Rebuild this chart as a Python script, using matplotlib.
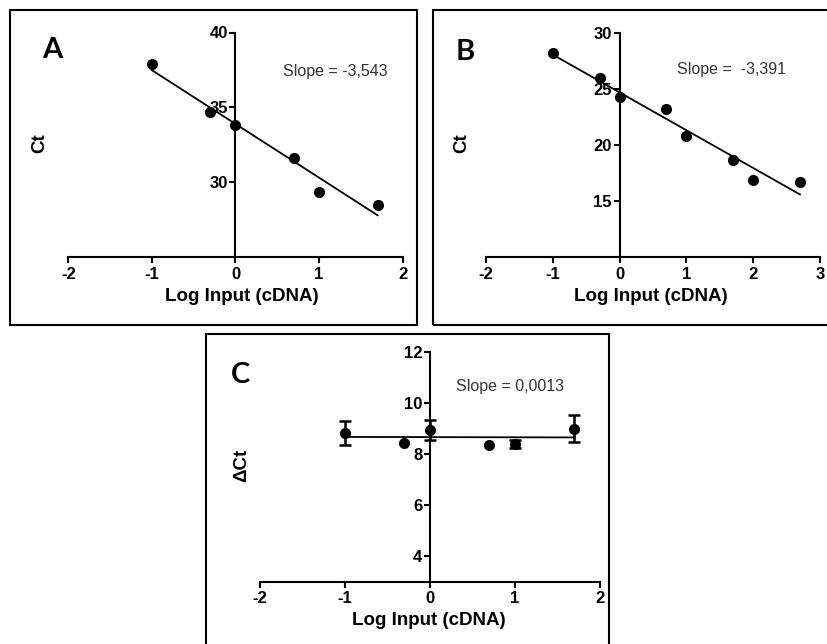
import numpy as np
import matplotlib
matplotlib.use('Agg')
import matplotlib.pyplot as plt
from matplotlib.patches import Rectangle

plt.rcParams['axes.unicode_minus'] = False
plt.rcParams['font.family'] = ['Liberation Sans', 'DejaVu Sans']

# panel A
xA = [-1, -0.3, 0, 0.7, 1, 1.7]
yA = [37.9, 34.7, 33.8, 31.6, 29.35, 28.45]
# panel B
xB = [-1, -0.3, 0, 0.7, 1, 1.7, 2, 2.7]
yB = [28.26, 26.02, 24.27, 23.19, 20.8, 18.65, 16.86, 16.68]
# panel C (delta Ct, with error)
xC = [-1, -0.3, 0, 0.7, 1, 1.7]
yC = [8.84, 8.46, 8.96, 8.36, 8.40, 9.0]
eC = [0.48, 0.0, 0.40, 0.0, 0.17, 0.53]

W, H = 828, 644
fig = plt.figure(figsize=(W/100, H/100), dpi=100)

def px_axes(x0, x1, ytop, ybot):
    return fig.add_axes([x0/W, 1-ybot/H, (x1-x0)/W, (ybot-ytop)/H])

def style(ax, xlim, ylim, xticks, yticks):
    ax.set_xlim(xlim)
    ax.set_ylim(ylim)
    ax.set_xticks(xticks)
    ax.set_yticks(yticks)
    for s in ['top', 'right']:
        ax.spines[s].set_visible(False)
    ax.spines['left'].set_position(('data', 0))
    ax.spines['left'].set_linewidth(1.5)
    ax.spines['bottom'].set_linewidth(1.5)
    ax.tick_params(direction='out', length=4, width=1.5, labelsize=12)
    ax.tick_params(axis='x', pad=3)
    ax.tick_params(axis='y', pad=1.5)
    for lab in ax.get_xticklabels() + ax.get_yticklabels():
        lab.set_fontweight('bold')
    ax.patch.set_alpha(0)

def fitline(ax, x, y):
    k, b = np.polyfit(x, y, 1)
    xs = np.array([min(x), max(x)])
    ax.plot(xs, k*xs + b, color='black', lw=1.3, zorder=3)

def labels(ax, letter, lpos, ylab, ypos, xpos, slope, spos):
    ax.text(lpos[0], lpos[1], letter, transform=ax.transAxes, ha='center', va='center',
            fontsize=21, fontweight='bold', family=['Lato', 'DejaVu Sans'])
    ax.text(ypos[0], ypos[1], ylab, transform=ax.transAxes, ha='center', va='center',
            rotation=90, fontsize=13.5, fontweight='bold')
    ax.text(xpos[0], xpos[1], 'Log Input (cDNA)', transform=ax.transAxes, ha='center',
            va='center', fontsize=13.5, fontweight='bold')
    ax.text(spos[0], spos[1], slope, transform=ax.transAxes, ha='center', va='center',
            fontsize=11.5, color='#333333')

# A
axA = px_axes(68.3, 402.7, 32.5, 257)
style(axA, (-2, 2), (25, 40), [-2, -1, 0, 1, 2], [30, 35, 40])
axA.plot(xA, yA, 'o', color='black', ms=7, zorder=4, clip_on=False)
fitline(axA, xA, yA)
labels(axA, 'A', (-0.049, 0.922), 'Ct', (-0.085, 0.508), (0.519, -0.178),
       'Slope = -3,543', (0.798, 0.828))

# B
axB = px_axes(486, 820, 33.3, 257)
style(axB, (-2, 3), (10, 30), [-2, -1, 0, 1, 2, 3], [15, 20, 25, 30])
axB.plot(xB, yB, 'o', color='black', ms=7, zorder=4, clip_on=False)
fitline(axB, xB, yB)
labels(axB, 'B', (-0.063, 0.916), 'Ct', (-0.072, 0.508), (0.494, -0.178),
       'Slope =  -3,391', (0.734, 0.836))

# C
axC = px_axes(260, 600, 352.3, 581.7)
style(axC, (-2, 2), (3, 12), [-2, -1, 0, 1, 2], [4, 6, 8, 10, 12])
axC.plot(xC, yC, 'o', color='black', ms=7, zorder=4)
has_err = [i for i, e in enumerate(eC) if e > 0]
axC.errorbar([xC[i] for i in has_err], [yC[i] for i in has_err],
             yerr=[eC[i] for i in has_err], fmt='none', ecolor='black',
             elinewidth=1.8, capsize=4, capthick=1.8, zorder=4)
fitline(axC, xC, yC)
labels(axC, 'C', (-0.056, 0.901), '\u0394Ct', (-0.053, 0.509), (0.497, -0.167),
       'Slope = 0,0013', (0.735, 0.849))

# panel frames
for (x0, y0, x1, y1) in [(9.5, 10.5, 417, 325), (433, 10.5, 835, 325), (206, 334, 609, 650)]:
    fig.add_artist(Rectangle((x0/W, 1-y1/H), (x1-x0)/W, (y1-y0)/H, transform=fig.transFigure,
                             fill=False, edgecolor='black', lw=1.5))

fig.savefig('out.png', dpi=100)
